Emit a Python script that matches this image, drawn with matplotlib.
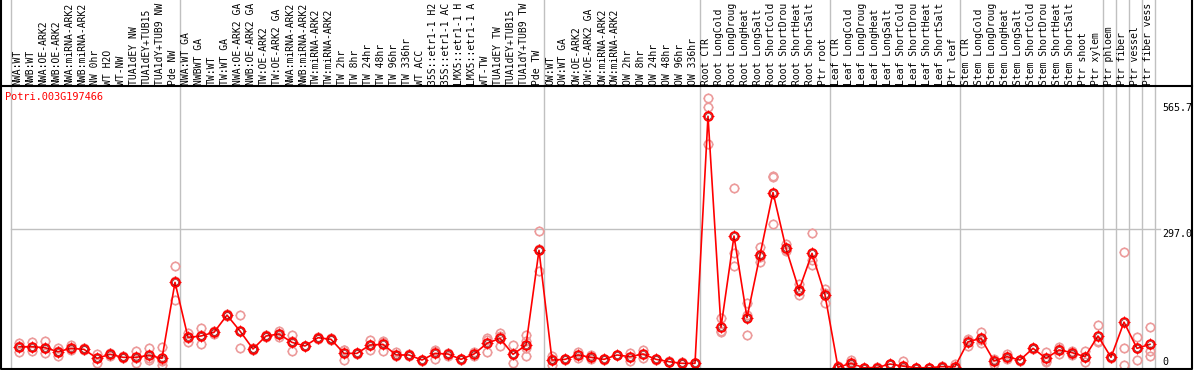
import numpy as np
import matplotlib

matplotlib.use('Agg')
import matplotlib.pyplot as plt
from matplotlib.path import Path

gene = "Potri.003G197466"

# labels as far as they are visible in the reference (cut at the top edge)
samples = [
    "NWA:WT", "NWB:WT", "NWA:OE-ARK2", "NWB:OE-ARK2", "NWA:miRNA-ARK2", "NWB:miRNA-ARK2",
    "NW 0hr", "WT H2O", "WT-NW", "TUA1dEY NW", "TUA1dEY+TUB15", "TUA1dY+TUB9 NW", "Pde NW",
    "NWA:WT GA", "NWBWT GA", "TW:WT", "TW:WT GA", "NWA:OE-ARK2 GA", "NWB:OE-ARK2 GA",
    "TW:OE-ARK2", "TW:OE-ARK2 GA", "NWA:miRNA-ARK2", "NWB:miRNA-ARK2", "TW:miRNA-ARK2",
    "TW:miRNA-ARK2", "TW 2hr", "TW 8hr", "TW 24hr", "TW 48hr", "TW 96hr", "TW 336hr",
    "WT ACC", "35S::etr1-1 H2", "35S::etr1-1 AC", "LMX5::etr1-1 H", "LMX5::etr1-1 A",
    "WT-TW", "TUA1dEY TW", "TUA1dEY+TUB15", "TUA1dY+TUB9 TW", "Pde TW",
    "OW:WT", "OW:WT GA", "OW:OE-ARK2", "OW:OE-ARK2 GA", "OW:miRNA-ARK2", "OW:miRNA-ARK2",
    "OW 2hr", "OW 8hr", "OW 24hr", "OW 48hr", "OW 96hr", "OW 336hr",
    "Root CTR", "Root LongCold", "Root LongDroug", "Root LongHeat", "Root LongSalt",
    "Root ShortCold", "Root ShortDrou", "Root ShortHeat", "Root ShortSalt", "Ptr root",
    "Leaf CTR", "Leaf LongCold", "Leaf LongDroug", "Leaf LongHeat", "Leaf LongSalt",
    "Leaf ShortCold", "Leaf ShortDrou", "Leaf ShortHeat", "Leaf ShortSalt", "Ptr leaf",
    "Stem CTR", "Stem LongCold", "Stem LongDroug", "Stem LongHeat", "Stem LongSalt",
    "Stem ShortCold", "Stem ShortDrou", "Stem ShortHeat", "Stem ShortSalt", "Ptr shoot",
    "Ptr xylem", "Ptr phloem", "Ptr fiber", "Ptr vessel", "Ptr fiber vess",
]

# last sample index of each group (separator lines)
group_ends = [12, 40, 52, 62, 72, 83, 84, 85, 86, 87]

means = [
    45.5, 45.5, 43.4, 34.8, 42, 39.9, 20.7, 29.2, 22.8, 22.8, 27, 20.7, 183,
    65.5, 68.4, 76.2, 113, 79, 40.6, 68.4, 72.6, 54.8, 47, 64.8, 61.3, 31.3, 31.3,
    49, 50.6, 28, 27.8, 17, 31.3, 29.9, 18.5, 29.9, 52.7, 63.4, 29.2, 49, 251.5,
    17, 18.5, 27.8, 22.8, 18.5, 27.8, 24.2, 29.9, 18.5, 13.5, 10, 10,
    538, 87, 282, 107.5, 241.5, 375, 255.7, 166.7, 245, 156,
    1.5, 10, 0.5, 1, 8.5, 4, 0.5, 0.5, 3, 2.8,
    56, 63.4, 15, 24.2, 17, 42, 20.7, 38.5, 32.8, 24.2, 68.4,
    22.8, 98, 42, 50.6,
]

replicates = [
    [52.7, 34.8, 46], [56, 36, 45], [57.7, 31.3, 42], [42, 25.6, 36], [49, 38.5, 40],
    [42, 38], [29.2, 11.4, 21], [31, 26, 30], [25, 21], [36.3, 11.4, 21], [42, 17, 22],
    [45.5, 6.4, 14, 17], [218, 145, 185],
    [75.5, 56, 65], [84.8, 50.6, 70], [80, 72], [115, 111], [113, 43.4, 80], [42, 39],
    [70, 66], [79.8, 66, 72], [70.5, 37, 57], [47, 46], [67, 62], [64, 59],
    [38.5, 17, 38], [32, 30], [59.8, 38.5, 49], [57.7, 36.5, 56], [34.8, 25], [30, 25],
    [18, 16], [38.5, 18.5, 37], [32, 25], [20, 17], [35, 25], [63.4, 34.8, 60],
    [74, 68, 48], [49, 10, 29], [70.5, 42, 25.6, 58], [293, 207, 254],
    [25.6, 6.4, 19], [20, 17], [34, 22], [27, 19], [19, 18], [28, 27], [32.8, 16],
    [38, 21], [20, 17], [14, 13], [12, 9], [10, 10],
    [577, 558, 479], [106, 77.6, 78], [384, 245, 218], [138, 70.5, 114], [259, 227, 238],
    [411, 307, 408], [266, 250, 252], [179.5, 156, 165], [288, 231, 220], [168, 139.5, 160],
    [4, 0, 0], [17, 8, 5], [1, 0], [2.8, 0], [9, 8], [15, 0, 0], [1, 0], [1, 0], [4, 2],
    [8.5, 0, 0],
    [61, 47, 60], [77.6, 52.7, 60], [7.8, 18, 19], [29.2, 19, 24], [18, 16], [43, 41],
    [34.8, 14, 13], [45.5, 30, 40], [28, 37, 33], [36.3, 13.5, 23], [91.9, 56, 57],
    [23, 22], [248, 42, 5.8], [67, 16.4, 42], [88, 36.3, 25.6],
]

y_ticks = [0, 297.0, 565.7]
y_tick_labels = ["0", "297.0", "565.7"]

# pixel layout of the reference picture
X0, DX = 19, 13          # px of first sample, px per sample
Y0, SY = 368, 0.468      # px of zero, px per unit


def px_x(px):
    return (px - X0) / DX


def px_y(py):
    return (Y0 - py) / SY


mono = "DejaVu Sans Mono"
fs = 7.0
red = "#ff0000"
pink = "#ec9a9a"
grey = "#c0c0c0"

fig = plt.figure(figsize=(11.94, 3.70), dpi=100)
ax = fig.add_axes([0, 0, 1, 1])
ax.set_xlim(px_x(0), px_x(1194))
ax.set_ylim(px_y(370), px_y(0))
ax.axis("off")

# separator lines
seps = [px_x(11)] + [e + 5 / DX for e in group_ends]
for s in seps:
    ax.plot([s, s], [px_y(369), px_y(0)], color=grey, lw=1, zorder=1)

# grid line for the middle tick
ax.plot([px_x(11), px_x(1160)], [y_ticks[1], y_ticks[1]], color=grey, lw=1, zorder=1)

# frame
ax.plot([px_x(1), px_x(1), px_x(1192), px_x(1192)],
        [px_y(0), px_y(369), px_y(369), px_y(0)], color="black", lw=1.5, zorder=5)
ax.plot([px_x(1), px_x(1192)], [px_y(86), px_y(86)], color="black", lw=1.5, zorder=5)

# sample labels
for i, name in enumerate(samples):
    ax.text(i - 2 / DX, px_y(85), name, rotation=90, ha="center", va="bottom",
            family=mono, fontsize=fs, color="black")

# small nubs around the circle markers
ticks = Path([(0, 0.78), (0, 1), (0, -0.78), (0, -1), (0.78, 0), (1, 0), (-0.78, 0), (-1, 0)],
             [Path.MOVETO, Path.LINETO] * 4)

x = np.arange(len(samples))
for i, reps in enumerate(replicates):
    xs = np.full(len(reps), i)
    ax.plot(xs, reps, ls="none", marker="o", ms=6, mfc="none", mec=pink, mew=1.2, zorder=2)
    ax.plot(xs, reps, ls="none", marker=ticks, ms=7.8, mec=pink, mew=0.8, zorder=2)

ax.plot(x, means, color=red, lw=1.2, zorder=3)
ax.plot(x, means, ls="none", marker="o", ms=6.2, mfc="none", mec=red, mew=1.4, zorder=4)
ax.plot(x, means, ls="none", marker="o", ms=4.2, mfc="none", mec="#6a0000", mew=0.4, zorder=4)
ax.plot(x, means, ls="none", marker=ticks, ms=8.0, mec=red, mew=0.8, zorder=4)

# value labels on the right
for v, lab in zip(y_ticks[1:], y_tick_labels[1:]):
    ax.text(px_x(1162), v, lab, ha="left", va="top", family=mono, fontsize=fs + 0.2)
ax.text(px_x(1162), px_y(362), y_tick_labels[0], ha="left", va="center",
        family=mono, fontsize=fs + 0.2)

ax.text(px_x(5), px_y(97), gene, ha="left", va="center", family=mono,
        fontsize=fs + 0.4, color=red)

fig.savefig("out.png", dpi=100)
